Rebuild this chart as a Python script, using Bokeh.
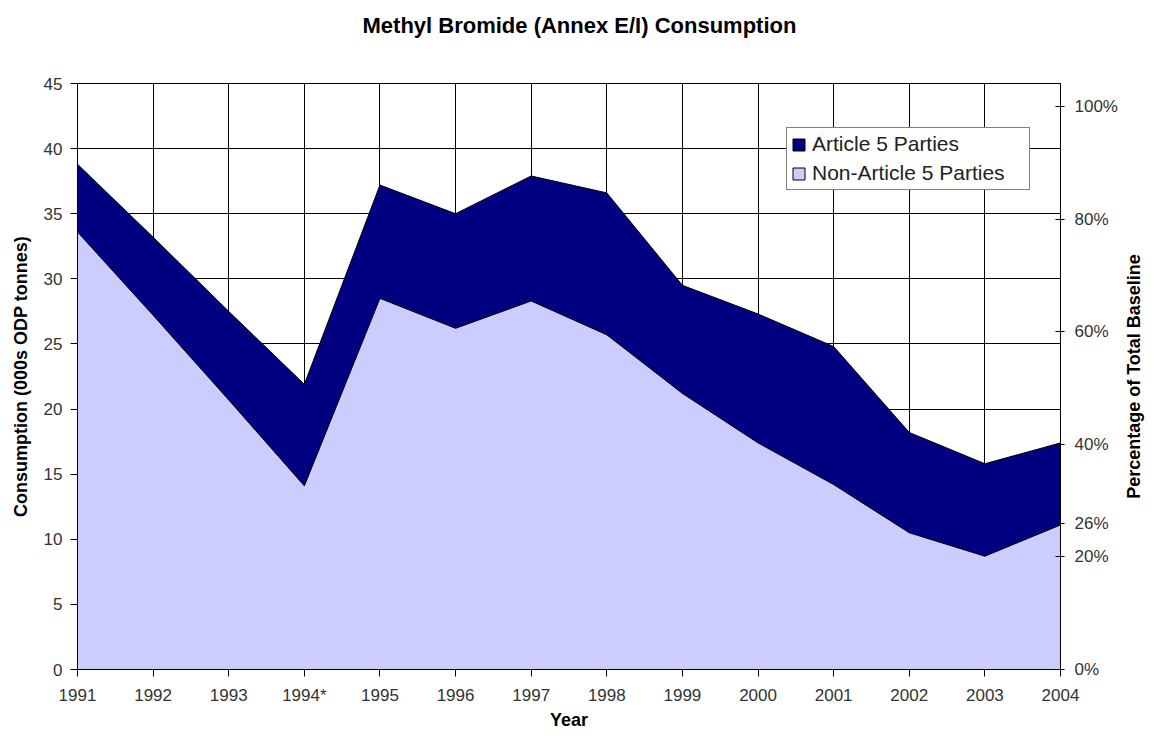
from bokeh.plotting import figure
from bokeh.layouts import row, column
from bokeh.models import LinearAxis, Range1d, FixedTicker, Legend, LegendItem, Title
from bokeh.embed import file_html
from bokeh.resources import INLINE

years = [1991, 1992, 1993, 1994, 1995, 1996, 1997, 1998, 1999, 2000, 2001, 2002, 2003, 2004]
year_labels = ["1991", "1992", "1993", "1994*", "1995", "1996", "1997", "1998", "1999", "2000", "2001", "2002", "2003", "2004"]
non_article5 = [33.6, 27.2, 20.7, 14.1, 28.5, 26.2, 28.3, 25.7, 21.2, 17.4, 14.2, 10.5, 8.7, 11.1]
total = [38.8, 33.2, 27.5, 21.9, 37.2, 35.0, 37.9, 36.6, 29.5, 27.3, 24.8, 18.2, 15.8, 17.4]
article5 = [round(t - n, 2) for t, n in zip(total, non_article5)]
pct_ticks = [0, 20, 40, 60, 80, 100]
pct_max = 104.1
note_pct = 26  # share of baseline noted at 2004

FONT = "Liberation Sans"
NAN = float("nan")
HEAD_H = 46
H = 732 - HEAD_H
TOP = 83 - HEAD_H


def blank(fig):
    fig.xaxis.visible = False
    fig.yaxis.visible = False
    fig.grid.visible = False
    fig.outline_line_color = None


# header carrying the chart title
head = figure(width=1146, height=HEAD_H, output_backend="svg", toolbar_location=None,
              min_border_left=0, min_border_right=0, min_border_top=42, min_border_bottom=0)
blank(head)
head.title.text = "Methyl Bromide (Annex E/I) Consumption"
head.title.align = "left"
head.title.offset = 362
head.title.standoff = 10
head.title.text_font = FONT
head.title.text_font_size = "22px"
head.title.text_font_style = "bold"
head.title.text_color = "black"

p = figure(width=1120, height=H, output_backend="svg", toolbar_location=None,
           x_range=Range1d(1991, 2004), y_range=Range1d(0, 45),
           min_border_left=77, min_border_right=60, min_border_top=TOP, min_border_bottom=63)

p.extra_y_ranges = {"pct": Range1d(0, pct_max)}

src = dict(x=years, non=non_article5, a5=article5)
r = p.varea_stack(stackers=["non", "a5"], x="x", source=src, color=["#CCCCFF", "#000080"])
p.line(years, non_article5, color="black", line_width=1)
p.line(years, total, color="black", line_width=1)

# legend swatches (proxy renderers that draw nothing in the plot)
sw_a5 = p.quad(left=[NAN], right=[NAN], top=[NAN], bottom=[NAN], fill_color="#000080", line_color="black")
sw_non = p.quad(left=[NAN], right=[NAN], top=[NAN], bottom=[NAN], fill_color="#CCCCFF", line_color="black")

p.xaxis.ticker = FixedTicker(ticks=years)
p.xaxis.major_label_overrides = {y: l for y, l in zip(years, year_labels)}
p.yaxis.ticker = FixedTicker(ticks=list(range(0, 46, 5)))
p.xgrid.ticker = FixedTicker(ticks=years)
p.ygrid.ticker = FixedTicker(ticks=list(range(0, 46, 5)))
for g in (p.xgrid, p.ygrid):
    g.grid_line_color = "black"
    g.grid_line_width = 1
    g.grid_line_alpha = 1

right_ticks = sorted(pct_ticks + [note_pct])
right = LinearAxis(y_range_name="pct", ticker=FixedTicker(ticks=right_ticks))
right.major_label_overrides = {t: f"{t}%" for t in right_ticks}
p.add_layout(right, "right")

for ax in [p.xaxis[0], p.yaxis[0], right]:
    ax.major_label_text_font = FONT
    ax.major_label_text_font_size = "17px"
    ax.major_label_text_color = "#333333"
    ax.axis_line_color = "black"
    ax.major_tick_line_color = "black"
    ax.minor_tick_line_color = None
    ax.major_tick_out = 7
    ax.major_tick_in = 0
    ax.axis_label_text_font = FONT
    ax.axis_label_text_font_style = "bold"
    ax.axis_label_text_font_size = "18px"
    ax.axis_label_text_color = "black"

right.major_tick_in = 5
right.major_tick_out = 4
right.major_label_standoff = 10
p.yaxis[0].major_label_standoff = 8
p.xaxis[0].major_label_standoff = 9

p.xaxis[0].axis_label = "Year"
p.yaxis[0].axis_label = "Consumption (000s ODP tonnes)"
p.yaxis[0].axis_label_standoff = 10
p.xaxis[0].axis_label_standoff = 2

p.outline_line_color = "black"
p.outline_line_width = 1

legend = Legend(items=[LegendItem(label="Article 5 Parties", renderers=[sw_a5]),
                       LegendItem(label="Non-Article 5 Parties", renderers=[sw_non])],
                location=(709, 479), background_fill_alpha=1,
                border_line_color="black", border_line_width=1,
                label_text_font=FONT, label_text_font_size="21px", label_text_color="#222222",
                glyph_width=15, glyph_height=15, label_standoff=6, label_height=20,
                label_width=213, padding=4, spacing=5, margin=0)
p.add_layout(legend)

# narrow companion figure carrying the right-hand axis title (reads bottom to top)
p2 = figure(width=26, height=H, output_backend="svg", toolbar_location=None,
            min_border_left=0, min_border_right=0, min_border_top=TOP, min_border_bottom=63)
blank(p2)
p2.add_layout(Title(text="Percentage of Total Baseline", align="center", standoff=2,
                    text_font=FONT, text_font_size="18px", text_font_style="bold",
                    text_color="black"), "left")

layout = column(head, row(p, p2, spacing=0), spacing=0)
open("out.html", "w").write(file_html(layout, INLINE))
